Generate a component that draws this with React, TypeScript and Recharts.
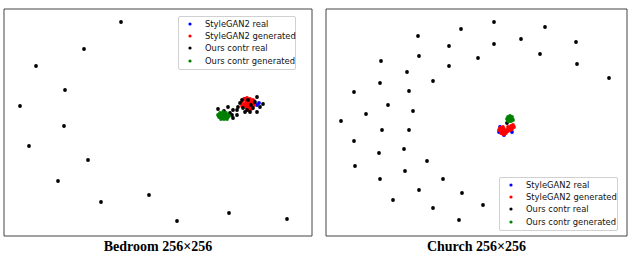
import React from 'react';
import { ScatterChart, Scatter, XAxis, YAxis, ReferenceArea, Legend } from 'recharts';

// точки t-SNE, координаты в единицах рамки (x вправо, y вниз)
type Pt = { x: number; y: number };
const toPts = (a: number[][]): Pt[] => a.map(([x, y]) => ({ x, y }));

// Bedroom
const bedroomStyleReal = [[241, 90], [250, 92], [253, 96], [248, 99], [255, 94]];
const bedroomStyleGen = [
  [238, 93], [240, 90], [243, 89], [246, 90], [249, 91], [241, 95], [244, 94], [247, 94],
  [250, 96], [238, 97], [242, 98], [245, 98], [248, 97], [244, 100], [247, 100],
  [242, 92], [245, 92], [248, 93], [240, 96], [243, 96], [246, 96], [250, 94], [245, 101],
];
const bedroomOursReal = [
  [117, 13], [80, 40], [32, 57], [61, 81], [16, 97], [60, 117], [25, 137], [84, 151],
  [54, 172], [145, 186], [97, 193], [173, 212], [225, 204], [283, 210],
  [214, 100], [224, 98], [220, 102], [226, 104], [229, 101], [229, 109], [233, 106], [234, 98],
  [236, 94], [238, 91], [239, 99], [243, 101], [246, 103], [247, 96], [249, 99], [251, 93],
  [253, 88], [256, 98], [259, 95], [253, 103], [241, 103], [228, 106], [233, 101], [244, 91],
];
const bedroomOursGen = [
  [214, 106], [216, 104], [219, 103], [222, 104], [224, 106], [215, 108], [218, 107],
  [221, 107], [224, 108], [217, 110], [220, 110], [223, 110], [219, 105],
  [217, 105], [221, 105], [216, 106], [220, 108], [222, 109], [218, 109], [225, 107],
];

// Church
const churchStyleReal = [[173, 123], [178, 126], [186, 123], [174, 118]];
const churchStyleGen = [
  [174, 119], [176, 121], [175, 124], [178, 125], [180, 124], [178, 120], [181, 121], [183, 119],
  [185, 117], [187, 116], [184, 121], [182, 118], [186, 120], [188, 118], [177, 118],
  [176, 123], [178, 123], [180, 122], [182, 122], [184, 119], [186, 118], [177, 125], [173, 121],
];
const churchOursReal = [
  [92, 27], [135, 20], [168, 13], [219, 18], [123, 37], [168, 35], [195, 30], [250, 33],
  [55, 52], [93, 47], [152, 49], [214, 45], [251, 55], [123, 57], [81, 63], [54, 74],
  [107, 72], [283, 69], [28, 83], [83, 82], [62, 96], [40, 105], [87, 102], [15, 112],
  [56, 121], [83, 121], [28, 132], [78, 140], [53, 144], [101, 152], [29, 157], [79, 162],
  [54, 170], [117, 170], [93, 181], [136, 184], [67, 191], [157, 196], [107, 199], [133, 211],
  [181, 114],
];
const churchOursGen = [
  [182, 108], [184, 107], [186, 108], [181, 110], [183, 110], [185, 110], [187, 111],
  [182, 112], [185, 112], [184, 109], [186, 110], [183, 112],
];

const seriesNames = ['StyleGAN2 real', 'StyleGAN2 generated', 'Ours contr real', 'Ours contr generated'];
const seriesColors = ['#0000ff', '#ff0000', '#000000', '#008000'];

const Dot = (props: any) => <circle cx={props.cx} cy={props.cy} r={1.9} fill={props.fill} />;

const LegendBox = () => (
  <div
    style={{
      border: '1px solid #d0d0d0',
      borderRadius: 2,
      background: 'rgba(255,255,255,0.85)',
      padding: '1px 0 2px 0',
      fontFamily: '"DejaVu Sans", sans-serif',
      fontSize: 8.4,
      color: '#111',
    }}
  >
    {seriesNames.map((n, i) => (
      <div key={n} style={{ height: 12.2, display: 'flex', alignItems: 'center' }}>
        <svg width={26} height={12} style={{ flex: 'none' }}>
          <circle cx={11} cy={6} r={1.6} fill={seriesColors[i]} />
        </svg>
        <span style={{ whiteSpace: 'nowrap' }}>{n}</span>
      </div>
    ))}
  </div>
);

interface PanelProps {
  left: number;
  plotW: number;
  title: string;
  data: number[][][];
  legendLeft: number;
  legendTop: number;
  legendW: number;
}

const Panel: React.FC<PanelProps> = ({ left, plotW, title, data, legendLeft, legendTop, legendW }) => {
  const plotH = 227;
  return (
    <div style={{ position: 'absolute', left, top: 8, width: plotW + 2, height: 246 }}>
      <ScatterChart width={plotW + 2} height={plotH + 2} margin={{ top: 1, right: 1, bottom: 1, left: 1 }}>
        <XAxis type="number" dataKey="x" domain={[0, plotW]} hide />
        <YAxis type="number" dataKey="y" domain={[0, plotH]} reversed hide />
        <ReferenceArea x1={0} x2={plotW} y1={0} y2={plotH} fill="none" stroke="#444" strokeWidth={1} ifOverflow="visible" />
        {data.map((d, i) => (
          <Scatter
            key={seriesNames[i]}
            name={seriesNames[i]}
            data={toPts(d)}
            fill={seriesColors[i]}
            shape={<Dot />}
            isAnimationActive={false}
          />
        ))}
        <Legend
          layout="vertical"
          align="center"
          verticalAlign="middle"
          content={() => <LegendBox />}
          wrapperStyle={{ position: 'absolute', left: legendLeft, top: legendTop, width: legendW }}
        />
      </ScatterChart>
      <div
        style={{
          position: 'absolute',
          left: 0,
          top: 230,
          width: plotW + 2,
          textAlign: 'center',
          fontFamily: '"Liberation Serif", "Times New Roman", serif',
          fontWeight: 'bold',
          fontSize: 14,
          lineHeight: '18px',
        }}
      >
        {title}
      </div>
    </div>
  );
};

export default function App() {
  return (
    <div style={{ position: 'absolute', left: 0, top: 0, width: 628, height: 254, background: '#fff' }}>
      <Panel
        left={3}
        plotW={308}
        title="Bedroom 256×256"
        data={[bedroomStyleReal, bedroomStyleGen, bedroomOursReal, bedroomOursGen]}
        legendLeft={175}
        legendTop={8}
        legendW={118}
      />
      <Panel
        left={325}
        plotW={301}
        title="Church 256×256"
        data={[churchStyleReal, churchStyleGen, churchOursReal, churchOursGen]}
        legendLeft={174}
        legendTop={169}
        legendW={119}
      />
    </div>
  );
}
